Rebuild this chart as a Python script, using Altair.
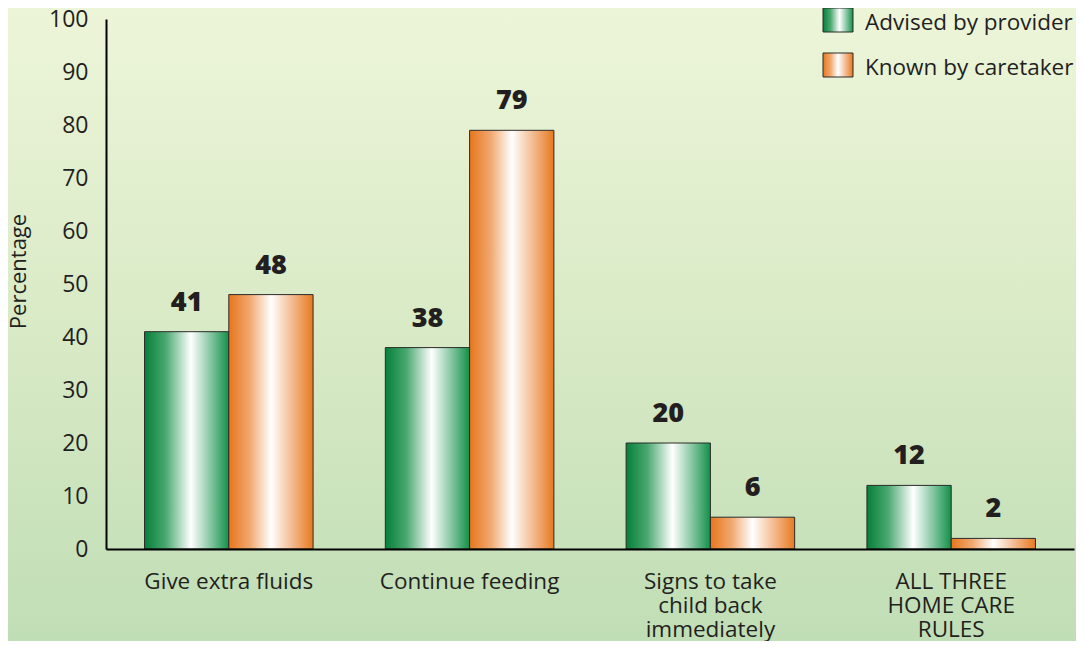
import json
import altair as alt
import pandas as pd

# ---- data ----
categories = ["Give extra fluids", "Continue feeding",
              "Signs to take child back immediately", "ALL THREE HOME CARE RULES"]
label_lines = [["Give extra fluids"], ["Continue feeding"],
               ["Signs to take", "child back", "immediately"],
               ["ALL THREE", "HOME CARE", "RULES"]]
series = ["Advised by provider", "Known by caretaker"]
advised = [41, 38, 20, 12]
known = [48, 79, 6, 2]
y_ticks = list(range(0, 101, 10))

rows = []
for c, a, k in zip(categories, advised, known):
    rows.append({"category": c, "series": series[0], "value": a})
    rows.append({"category": c, "series": series[1], "value": k})
df = pd.DataFrame(rows)
legend_df = pd.DataFrame({"series": series})

# ---- styles ----
FONT = "Open Sans"
TXT = "#231f20"
W, H = 968, 530
PAD = {"left": 98, "top": 11, "right": 2, "bottom": 92}

green_grad = alt.Gradient(
    gradient="linear", x1=0, y1=0, x2=1, y2=0,
    stops=[alt.GradientStop(offset=0, color="#05803a"),
           alt.GradientStop(offset=0.25, color="#4aa870"),
           alt.GradientStop(offset=0.55, color="#ffffff"),
           alt.GradientStop(offset=0.8, color="#7cc29a"),
           alt.GradientStop(offset=1, color="#13904a")])
orange_grad = alt.Gradient(
    gradient="linear", x1=0, y1=0, x2=1, y2=0,
    stops=[alt.GradientStop(offset=0, color="#e8761c"),
           alt.GradientStop(offset=0.25, color="#f0a870"),
           alt.GradientStop(offset=0.5, color="#ffffff"),
           alt.GradientStop(offset=0.78, color="#f2b384"),
           alt.GradientStop(offset=1, color="#e77a1f")])
bg_grad = alt.Gradient(
    gradient="linear", x1=0, y1=0, x2=0, y2=1,
    stops=[alt.GradientStop(offset=0, color="#edf5d9"),
           alt.GradientStop(offset=0.5, color="#d9eac6"),
           alt.GradientStop(offset=1, color="#c0deb6")])

label_map = json.dumps({c: l for c, l in zip(categories, label_lines)})

x_enc = alt.X("category:N", sort=categories,
              scale=alt.Scale(paddingInner=0.3, paddingOuter=0.16),
              axis=alt.Axis(title=None, labelAngle=0, ticks=False, zindex=2,
                            domainColor="black", domainWidth=2,
                            labelFont=FONT, labelFontSize=22.5, labelColor=TXT,
                            labelLineHeight=24, labelPadding=21,
                            labelExpr=f"{label_map}[datum.value]"))
xo_enc = alt.XOffset("series:N", sort=series,
                     scale=alt.Scale(domain=series, paddingInner=0))
y_enc = alt.Y("value:Q", scale=alt.Scale(domain=[0, 100], nice=False),
              axis=alt.Axis(values=y_ticks, ticks=False, grid=False, zindex=2,
                            domainColor="black", domainWidth=2,
                            labelFont=FONT, labelFontSize=23, labelColor=TXT,
                            labelPadding=18, title="Percentage",
                            titleFont=FONT, titleFontSize=22,
                            titleFontWeight="normal", titleY=252,
                            titleColor=TXT, titlePadding=18))

background = alt.Chart(pd.DataFrame({"a": [0]})).mark_rect(
    fill=bg_grad, stroke=None).encode(
    x=alt.value(-PAD["left"]), x2=alt.value(W + PAD["right"]),
    y=alt.value(-PAD["top"]), y2=alt.value(H + PAD["bottom"]))

base = alt.Chart(df)
bars_green = base.transform_filter(alt.datum.series == series[0]).mark_rect(
    fill=green_grad, stroke="#2b2b2b", strokeWidth=1).encode(
    x=x_enc, xOffset=xo_enc, y=y_enc, y2=alt.datum(0))
bars_orange = base.transform_filter(alt.datum.series == series[1]).mark_rect(
    fill=orange_grad, stroke="#2b2b2b", strokeWidth=1).encode(
    x=x_enc, xOffset=xo_enc, y=y_enc, y2=alt.datum(0))
values = base.mark_text(font=FONT, fontSize=27, fontWeight=800, color=TXT,
                        baseline="bottom", dy=-15).encode(
    x=x_enc, xOffset=xo_enc, y=y_enc, text="value:Q")

leg_layers = []
for i, (s, grad) in enumerate(zip(series, [green_grad, orange_grad])):
    ld = alt.Chart(legend_df).transform_filter(alt.datum.series == s)
    top = -11 + i * 45
    leg_layers.append(ld.mark_rect(fill=grad, stroke="#2b2b2b", strokeWidth=1).encode(
        x=alt.value(717), x2=alt.value(747), y=alt.value(top), y2=alt.value(top + 24)))
    leg_layers.append(ld.mark_text(font=FONT, fontSize=22.5,
                                   color=TXT, align="left", baseline="middle").encode(
        x=alt.value(759), y=alt.value(top + 15), text="series:N"))

chart = alt.layer(background, bars_green, bars_orange, values, *leg_layers).properties(
    width=W, height=H, autosize=alt.AutoSizeParams(type="none"), padding=PAD,
    background="#d9eac6"
).configure_view(stroke=None)

chart.save("out.html", embed_options={"renderer": "svg", "actions": False})
